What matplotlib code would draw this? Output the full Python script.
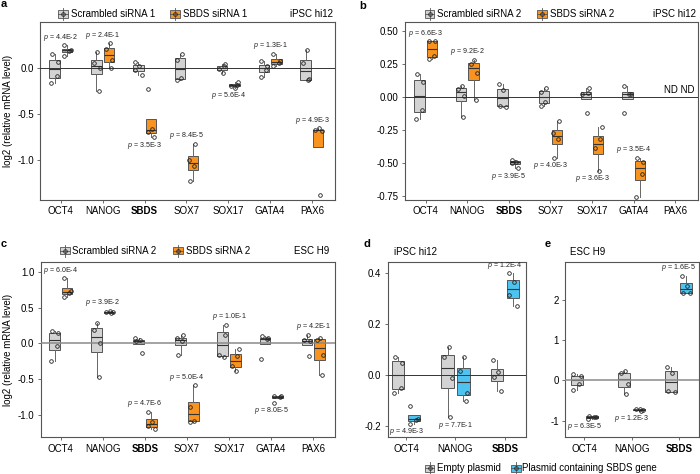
import numpy as np
import matplotlib.pyplot as plt
from matplotlib.lines import Line2D
from matplotlib.patches import Rectangle

plt.rcParams['font.family'] = ['Liberation Sans', 'DejaVu Sans']
plt.rcParams['mathtext.fontset'] = 'custom'
plt.rcParams['mathtext.it'] = 'Liberation Sans:italic'
plt.rcParams['mathtext.rm'] = 'Liberation Sans'
plt.rcParams['font.size'] = 7

# ---- data (log2 relative mRNA level, one value per replicate) ----
genes = ["OCT4", "NANOG", "SBDS", "SOX7", "SOX17", "GATA4", "PAX6"]

a_scr = [[0.16, 0.07, -0.08, -0.16], [0.18, 0.06, 0.00, -0.25],
         [0.07, 0.03, -0.02, -0.07], [0.16, 0.09, -0.11, -0.13],
         [0.05, 0.02, -0.01, -0.05], [0.08, 0.02, -0.02, -0.09],
         [0.20, 0.06, -0.12, -0.13]]
a_si = [[0.25, 0.20, 0.19, 0.13], [0.27, 0.21, 0.09, 0.00],
        [-0.22, -0.66, -0.69, -0.75], [-0.82, -1.00, -1.06, -1.22],
        [-0.15, -0.18, -0.19, -0.21], [0.16, 0.08, 0.06, 0.02],
        [-0.65, -0.67, -0.68, -1.38]]
a_p = ["4.4E-2", "2.4E-1", "3.5E-3", "8.4E-5", "5.6E-4", "1.3E-1", "4.9E-3"]
a_side = ["up", "up", "down", "up", "down", "up", "up"]

b_scr = [[0.17, 0.11, -0.10, -0.17], [0.08, 0.06, 0.01, -0.15],
         [0.10, 0.05, -0.07, -0.08], [0.07, 0.04, -0.04, -0.07],
         [0.07, 0.03, 0.02, -0.12], [0.08, 0.02, 0.02, -0.12], []]
b_si = [[0.42, 0.42, 0.31, 0.29], [0.28, 0.25, 0.18, -0.02],
        [-0.48, -0.49, -0.50, -0.54], [-0.18, -0.27, -0.32, -0.46],
        [-0.23, -0.32, -0.39, -0.56], [-0.46, -0.49, -0.58, -0.76], []]
b_p = ["6.6E-3", "9.2E-2", "3.9E-5", "4.0E-3", "3.6E-3", "3.5E-4", None]
b_side = ["up", "up", "down", "down", "down", "up", None]

c_scr = [[0.17, 0.14, -0.04, -0.25], [0.28, 0.19, 0.00, -0.47],
         [0.08, 0.04, 0.03, -0.13], [0.11, 0.07, 0.03, -0.16],
         [0.26, 0.12, -0.17, -0.19], [0.10, 0.07, 0.06, -0.22],
         [0.12, 0.04, 0.03, -0.18]]
c_si = [[0.91, 0.74, 0.70, 0.65], [0.455, 0.44, 0.435, 0.42],
        [-0.96, -1.10, -1.16, -1.20], [-0.59, -0.90, -1.09, -1.11],
        [-0.08, -0.18, -0.32, -0.39], [-0.74, -0.745, -0.75, -0.83],
        [0.08, 0.05, -0.17, -0.44]]
c_p = ["6.0E-4", "3.9E-2", "4.7E-6", "5.0E-4", "1.0E-1", "8.0E-5", "4.2E-1"]
c_side = ["up", "up", "up", "up", "up", "down", "up"]

de_genes = ["OCT4", "NANOG", "SBDS"]
d_empty = [[0.07, 0.05, -0.05, -0.07], [0.11, 0.07, -0.01, -0.165],
           [0.06, 0.012, -0.008, -0.06]]
d_plasmid = [[-0.12, -0.17, -0.175, -0.19], [0.07, 0.015, -0.07, -0.10],
             [0.40, 0.365, 0.315, 0.27]]
d_p = ["4.9E-3", "7.7E-1", "1.2E-4"]
d_side = ["down", "down", "up"]

e_empty = [[0.16, 0.10, -0.08, -0.24], [0.23, 0.17, -0.10, -0.35],
           [0.33, 0.19, -0.27, -0.30]]
e_plasmid = [[-0.88, -0.90, -0.92, -0.95], [-0.70, -0.72, -0.73, -0.76],
             [2.60, 2.35, 2.18, 2.18]]
e_p = ["6.3E-5", "1.2E-3", "1.6E-5"]
e_side = ["down", "down", "up"]

# ---- styling ----
W, H = 700, 474
GRAY = '#d3d3d3'
ORANGE = '#f7931e'
BLUE = '#4ec3ef'
EDGE = '#555555'
JITTER = np.array([-0.07, 0.08, 0.05, -0.08, 0.02])

fig = plt.figure(figsize=(W / 100, H / 100), dpi=100)


def px_axes(l, t, r, b):
    return fig.add_axes([l / W, 1 - b / H, (r - l) / W, (b - t) / H])


def fx(x):
    return x / W


def fy(y):
    return 1 - y / H


def draw_boxes(ax, groups, color, shift):
    for i, vals in enumerate(groups):
        if not vals:
            continue
        x = i + shift
        ax.boxplot([vals], positions=[x], widths=0.25, patch_artist=True,
                   showfliers=False, showcaps=False, manage_ticks=False,
                   boxprops=dict(facecolor=color, edgecolor=EDGE, lw=0.7),
                   medianprops=dict(color='#333333', lw=0.8),
                   whiskerprops=dict(color='#666666', lw=0.7), zorder=2)
        jit = np.roll(JITTER, i)[:len(vals)]
        ax.plot(x + jit, vals, 'o', ms=2.6, mfc='none', mec='#222222',
                mew=0.6, zorder=4)


def p_labels(ax, ctrl, treat, pvals, sides, gap=8):
    for i, (p, side) in enumerate(zip(pvals, sides)):
        if p is None:
            continue
        both = ctrl[i] + treat[i]
        if side == "up":
            y = max(treat[i]) if max(treat[i]) < min(ctrl[i]) else max(both)
            dy = gap
        else:
            y = min(both)
            dy = -gap
        ax.annotate(f"$p$ = {p}", (i, y), xytext=(0, dy * 0.72),
                    textcoords='offset points', ha='center', va='center',
                    fontsize=5.1, color='#222222')


def setup(ax, labels, xlim, ylim, yticks, fmt, zcolor='#333333', zlw=0.7):
    ax.axhline(0, color=zcolor, lw=zlw, zorder=3)
    ax.set_xlim(*xlim)
    ax.set_ylim(*ylim)
    ax.set_xticks(range(len(labels)))
    ax.set_xticklabels(labels)
    for t in ax.get_xticklabels():
        if t.get_text() == "SBDS":
            t.set_fontweight('bold')
    ax.set_yticks(yticks)
    ax.set_yticklabels([fmt % v for v in yticks])
    for s in ax.spines.values():
        s.set_color('#555555')
        s.set_linewidth(0.8)
    ax.tick_params(length=2.5, width=0.6, color='#555555', pad=2, labelsize=7)


def key_glyph(x, y, color):
    fig.add_artist(Line2D([fx(x), fx(x)], [fy(y - 6), fy(y + 6)], color=EDGE, lw=0.6))
    fig.add_artist(Rectangle((fx(x - 5), fy(y + 3.5)), 10 / W, 7 / H,
                             facecolor=color, edgecolor=EDGE, lw=0.6))
    fig.add_artist(Line2D([fx(x - 5), fx(x + 5)], [fy(y), fy(y)], color=EDGE, lw=0.6))
    fig.add_artist(Line2D([fx(x)], [fy(y)], marker='o', ms=2.6, mfc='none',
                          mec='#222222', mew=0.6))


def legend_text(x, y, s, ha='left'):
    fig.text(fx(x), fy(y), s, ha=ha, va='center', fontsize=7)


# ---- panel a ----
ax_a = px_axes(40, 22.3, 335, 200)
draw_boxes(ax_a, a_scr, GRAY, -0.15)
draw_boxes(ax_a, a_si, ORANGE, 0.15)
p_labels(ax_a, a_scr, a_si, a_p, a_side)
setup(ax_a, genes, (-0.5, 6.55), (-1.43, 0.50), [-1.0, -0.5, 0.0], '%.1f')

# ---- panel b ----
ax_b = px_axes(405, 22.3, 698, 200)
draw_boxes(ax_b, b_scr, GRAY, -0.15)
draw_boxes(ax_b, b_si, ORANGE, 0.15)
p_labels(ax_b, b_scr, b_si, b_p, b_side)
setup(ax_b, genes, (-0.5, 6.55), (-0.78, 0.564),
      [-0.75, -0.5, -0.25, 0.0, 0.25, 0.5], '%.2f')
ax_b.text(6.1, 0.05, "ND ND", ha='center', va='center', fontsize=7)

# ---- panel c ----
ax_c = px_axes(40.7, 261.7, 335, 437.3)
draw_boxes(ax_c, c_scr, GRAY, -0.15)
draw_boxes(ax_c, c_si, ORANGE, 0.15)
p_labels(ax_c, c_scr, c_si, c_p, c_side)
setup(ax_c, genes, (-0.48, 6.52), (-1.318, 1.145),
      [-1.0, -0.5, 0.0, 0.5, 1.0], '%.1f', zcolor='#8a8a8a', zlw=1.1)

# ---- panel d ----
ax_d = px_axes(387.7, 262.3, 525.7, 437.3)
draw_boxes(ax_d, d_empty, GRAY, -0.16)
draw_boxes(ax_d, d_plasmid, BLUE, 0.16)
p_labels(ax_d, d_empty, d_plasmid, d_p, d_side)
setup(ax_d, de_genes, (-0.37, 2.42), (-0.243, 0.443), [-0.2, 0.0, 0.2, 0.4], '%.1f')

# ---- panel e ----
ax_e = px_axes(565, 262.3, 699, 437.3)
draw_boxes(ax_e, e_empty, GRAY, -0.16)
draw_boxes(ax_e, e_plasmid, BLUE, 0.16)
p_labels(ax_e, e_empty, e_plasmid, e_p, e_side)
setup(ax_e, de_genes, (-0.41, 2.43), (-1.414, 2.93), [-1, 0, 1, 2], '%d',
      zcolor='#8a8a8a', zlw=1.1)

# ---- legends, titles, labels ----
key_glyph(63, 14, GRAY)
legend_text(71, 14, "Scrambled siRNA 1")
key_glyph(175, 14, ORANGE)
legend_text(183, 14, "SBDS siRNA 1")
legend_text(333, 14, "iPSC hi12", ha='right')

key_glyph(429.5, 14, GRAY)
legend_text(437, 14, "Scrambled siRNA 2")
key_glyph(542, 14, ORANGE)
legend_text(550, 14, "SBDS siRNA 2")
legend_text(696, 14, "iPSC hi12", ha='right')

key_glyph(64.5, 250.7, GRAY)
legend_text(72.3, 250.7, "Scrambled siRNA 2")
key_glyph(178, 250.7, ORANGE)
legend_text(185.7, 250.7, "SBDS siRNA 2")
legend_text(329.3, 250.7, "ESC H9", ha='right')

legend_text(394, 251.7, "iPSC hi12")
legend_text(570, 251.7, "ESC H9")

key_glyph(429.5, 468, GRAY)
legend_text(437, 468, "Empty plasmid")
key_glyph(515.5, 468, BLUE)
legend_text(522.5, 468, "Plasmid containing SBDS gene")

for x, y in [(8, 111), (8, 349.5)]:
    fig.text(fx(x), fy(y), "log2 (relative mRNA level)", rotation=90,
             ha='center', va='center', fontsize=7)

for letter, x, y in [("a", 1, 7), ("b", 359, 9), ("c", 1, 247.3),
                     ("d", 364, 247.3), ("e", 545, 247.3)]:
    fig.text(fx(x), fy(y), letter, ha='left', va='baseline',
             fontsize=8, fontweight='bold')

fig.savefig("out.png", dpi=100)
